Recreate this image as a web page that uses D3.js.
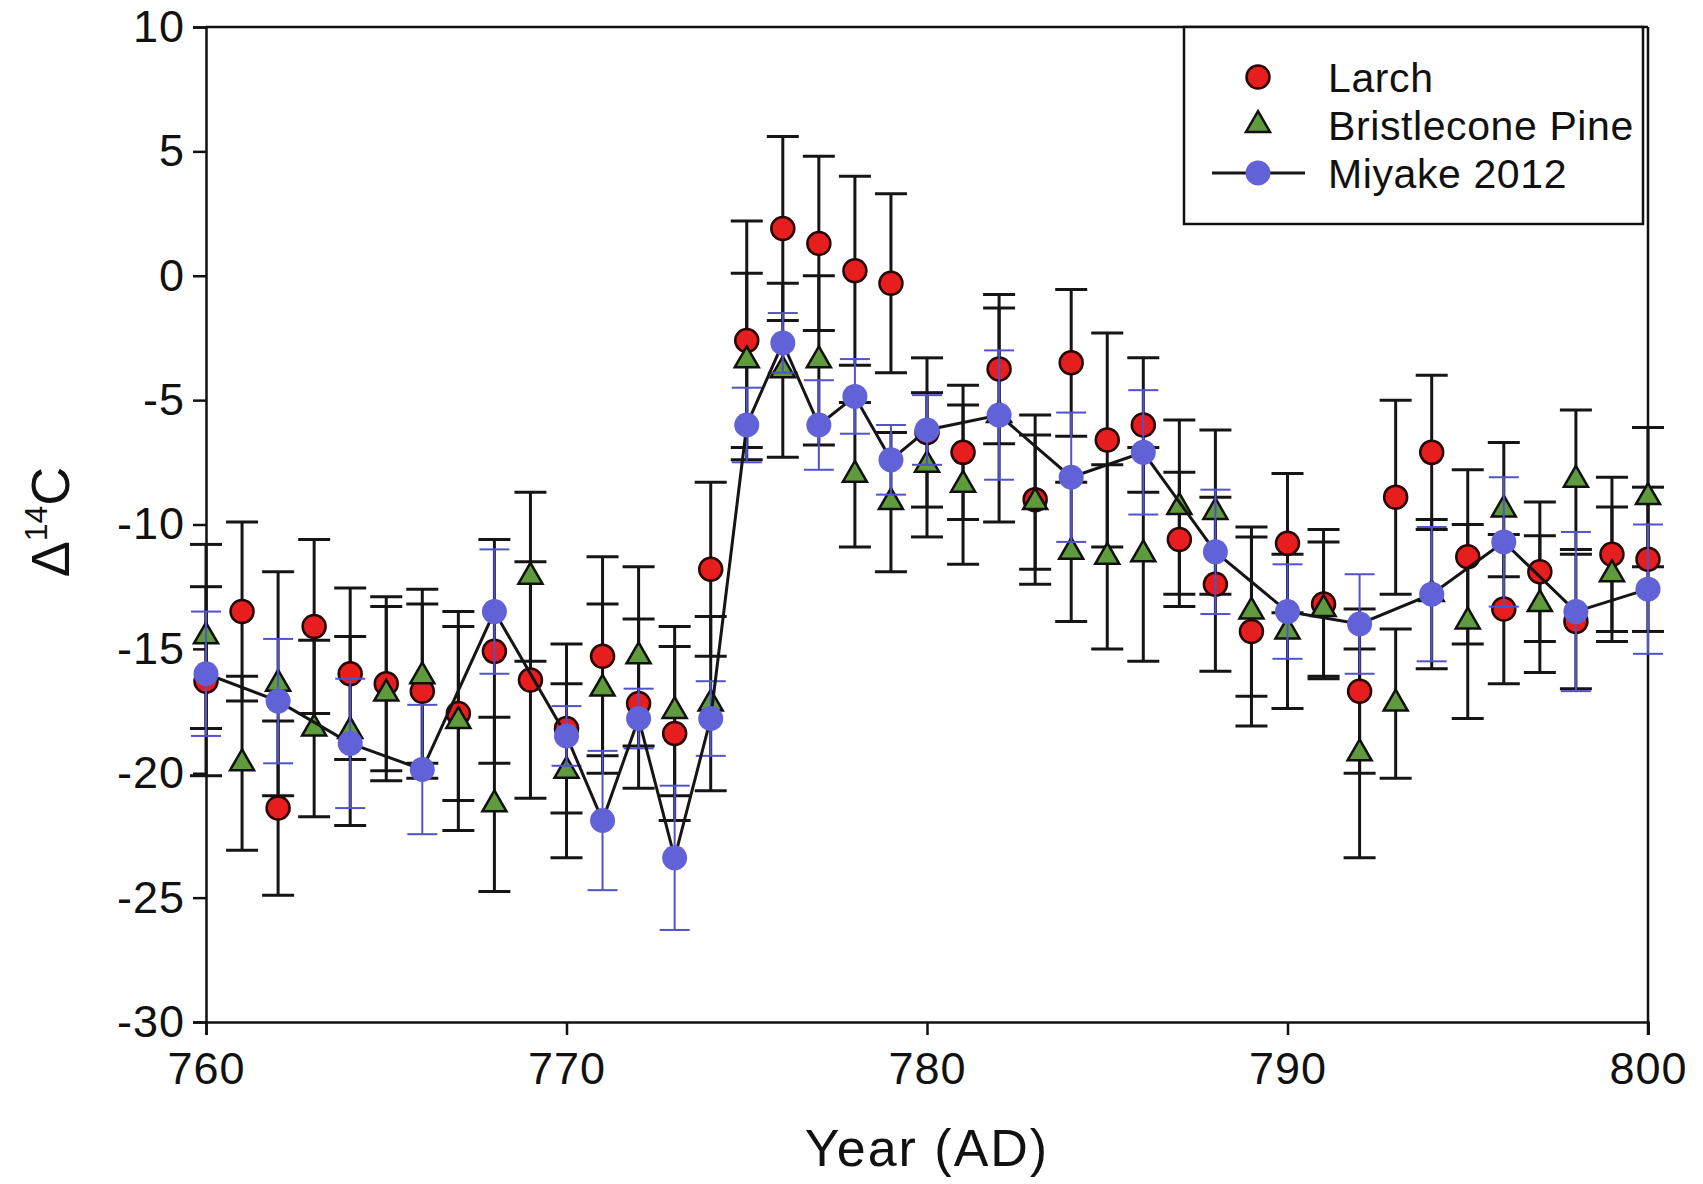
<!DOCTYPE html>
<html>
<head>
<meta charset="utf-8">
<script src="https://cdn.jsdelivr.net/npm/d3@7"></script>
<style>
  body { margin: 0; background: #fff; }
  text { font-family: "Liberation Sans", Arial, Helvetica, sans-serif; fill: #111; }
</style>
</head>
<body>
<div id="chart"></div>
<script>
var svgWidth = 1703;
var svgHeight = 1184;

// plot box
var box = { left: 206, right: 1648, top: 27, bottom: 1022 };

// data
var larchYears = d3.range(760, 801);
var larchValues = [-16.3, -13.5, -21.4, -14.1, -16.0, -16.4, -16.7, -17.6, -15.1, -16.25,
  -18.2, -15.3, -17.2, -18.4, -11.8, -2.6, 1.9, 1.3, 0.2, -0.3,
  -6.3, -7.1, -3.75, -9.0, -3.5, -6.6, -6.0, -10.6, -12.4, -14.3,
  -10.75, -13.2, -16.7, -8.9, -7.1, -11.3, -13.4, -11.9, -13.9, -11.2, -11.4];
var larchErrors = [3.8, 3.6, 3.5, 3.5, 3.45, 3.5, 3.5, 3.5, 4.5, 4.75,
  3.4, 4.0, 3.4, 3.5, 3.5, 4.8, 3.7, 3.5, 3.8, 3.6,
  3.0, 2.7, 3.0, 3.4, 2.95, 4.3, 2.7, 2.7, 3.5, 3.8,
  2.8, 3.0, 3.3, 3.9, 3.1, 3.5, 3.0, 2.8, 2.7, 3.1, 2.9];

var pineYears = d3.range(760, 801);
var pineValues = [-14.5, -19.6, -16.4, -18.2, -18.3, -16.8, -16.1, -17.9, -21.25, -12.1,
  -19.9, -16.6, -15.3, -17.5, -17.2, -3.4, -3.8, -3.4, -8.0, -9.1,
  -7.6, -8.4, -5.6, -9.1, -11.1, -11.3, -11.2, -9.3, -9.5, -13.5,
  -14.3, -13.4, -19.2, -17.2, -12.8, -13.9, -9.4, -13.2, -8.2, -12.0, -8.9];
var pineErrors = [3.7, 3.5, 4.5, 3.55, 3.8, 3.5, 3.5, 4.4, 3.5, 3.4,
  3.5, 3.4, 3.6, 3.4, 3.5, 3.5, 3.5, 3.4, 2.9, 2.8,
  2.9, 3.2, 4.3, 2.7, 2.8, 3.7, 4.3, 3.5, 3.3, 3.4,
  3.1, 2.7, 4.2, 3.0, 3.0, 3.9, 2.7, 2.75, 2.8, 2.7, 2.8];

var miyakeYears = [760, 762, 764, 766, 768, 770, 771, 772, 773, 774, 775, 776, 777,
  778, 779, 780, 782, 784, 786, 788, 790, 792, 794, 796, 798, 800];
var miyakeValues = [-16.0, -17.1, -18.8, -19.85, -13.5, -18.5, -21.9, -17.8, -23.4, -17.8,
  -6.0, -2.7, -6.0, -4.85, -7.4, -6.2, -5.6, -8.1, -7.1, -11.1,
  -13.5, -14.0, -12.8, -10.7, -13.5, -12.6];
var miyakeErrors = [2.5, 2.5, 2.6, 2.6, 2.5, 1.2, 2.8, 1.2, 2.9, 1.5,
  1.5, 1.2, 1.8, 1.5, 1.4, 1.4, 2.6, 2.6, 2.5, 2.5,
  1.9, 2.0, 2.7, 2.6, 3.2, 2.6];

var xTicks = [760, 770, 780, 790, 800];
var yTicks = [-30, -25, -20, -15, -10, -5, 0, 5, 10];
var seriesNames = ["Larch", "Bristlecone Pine", "Miyake 2012"];

function rows(years, values, errors) {
  return years.map(function(y, i) { return { year: y, value: values[i], err: errors[i] }; });
}
var larch = rows(larchYears, larchValues, larchErrors);
var pine = rows(pineYears, pineValues, pineErrors);
var miyake = rows(miyakeYears, miyakeValues, miyakeErrors);

var svg = d3.select("#chart")
  .append("svg")
  .attr("width", svgWidth)
  .attr("height", svgHeight);

svg.append("rect").attr("width", svgWidth).attr("height", svgHeight).attr("fill", "#fff");

var x = d3.scaleLinear().domain([760, 800]).range([box.left, box.right]);
var y = d3.scaleLinear().domain([-30, 10]).range([box.bottom, box.top]);

var redFill = "#e61e1e", greenFill = "#5f9b3c", blueFill = "#6262d8", blueBar = "#5252cc";

// axes
var leftAxis = d3.axisLeft(y).tickValues(yTicks).tickSize(13).tickPadding(8)
  .tickFormat(function(d) { return String(d); });
var bottomAxis = d3.axisBottom(x).tickValues(xTicks).tickSize(13).tickPadding(17)
  .tickFormat(function(d) { return String(d); });

var gy = svg.append("g").attr("transform", `translate(${box.left},0)`).call(leftAxis);
var gx = svg.append("g").attr("transform", `translate(0,${box.bottom})`).call(bottomAxis);
[gx, gy].forEach(function(g) {
  g.selectAll("path").attr("stroke", "#111").attr("stroke-width", 2.5);
  g.selectAll("line").attr("stroke", "#111").attr("stroke-width", 2.5);
  g.selectAll("text").attr("font-size", 45).attr("fill", "#111")
    .attr("letter-spacing", 1)
    .style("font-family", '"Liberation Sans", Arial, sans-serif');
});

// top and right frame
svg.append("line").attr("x1", box.left).attr("x2", box.right).attr("y1", box.top).attr("y2", box.top)
  .attr("stroke", "#111").attr("stroke-width", 2.5);
svg.append("line").attr("x1", box.right).attr("x2", box.right).attr("y1", box.top).attr("y2", box.bottom + 13)
  .attr("stroke", "#111").attr("stroke-width", 2.5);

// axis titles
svg.append("text")
  .attr("x", (box.left + box.right) / 2)
  .attr("y", 1166)
  .attr("text-anchor", "middle")
  .attr("font-size", 52)
  .attr("letter-spacing", 2)
  .text("Year (AD)");

var yTitle = svg.append("text")
  .attr("transform", "translate(69,522) rotate(-90)")
  .attr("text-anchor", "middle")
  .attr("font-size", 54);
yTitle.append("tspan").text("Δ");
yTitle.append("tspan").attr("font-size", 32).attr("dy", -22).text("14");
yTitle.append("tspan").attr("dy", 22).text("C");

// error bars
function errorBars(data, color, width, cap) {
  var g = svg.append("g").attr("stroke", color).attr("stroke-width", width).attr("fill", "none");
  g.selectAll("line.v").data(data).enter().append("line")
    .attr("x1", d => x(d.year)).attr("x2", d => x(d.year))
    .attr("y1", d => y(d.value - d.err)).attr("y2", d => y(d.value + d.err));
  g.selectAll("line.t").data(data).enter().append("line")
    .attr("x1", d => x(d.year) - cap).attr("x2", d => x(d.year) + cap)
    .attr("y1", d => y(d.value + d.err)).attr("y2", d => y(d.value + d.err));
  g.selectAll("line.b").data(data).enter().append("line")
    .attr("x1", d => x(d.year) - cap).attr("x2", d => x(d.year) + cap)
    .attr("y1", d => y(d.value - d.err)).attr("y2", d => y(d.value - d.err));
}
errorBars(larch, "#151515", 3, 16);
errorBars(pine, "#151515", 3, 16);

var tri = d3.symbol().type(d3.symbolTriangle).size(250);

svg.append("g").selectAll("circle").data(larch).enter().append("circle")
  .attr("cx", d => x(d.year)).attr("cy", d => y(d.value)).attr("r", 11.5)
  .attr("fill", redFill).attr("stroke", "#2a0505").attr("stroke-width", 2.5);

svg.append("g").selectAll("path").data(pine).enter().append("path")
  .attr("d", tri)
  .attr("transform", d => `translate(${x(d.year)},${y(d.value)})`)
  .attr("fill", greenFill).attr("stroke", "#101010").attr("stroke-width", 2.5);

errorBars(miyake, blueBar, 2, 15);

svg.append("path").datum(miyake)
  .attr("fill", "none").attr("stroke", "#151515").attr("stroke-width", 3)
  .attr("d", d3.line().x(d => x(d.year)).y(d => y(d.value)));

svg.append("g").selectAll("circle").data(miyake).enter().append("circle")
  .attr("cx", d => x(d.year)).attr("cy", d => y(d.value)).attr("r", 12.5)
  .attr("fill", blueFill);

// legend
var legend = svg.append("g");
legend.append("rect").attr("x", 1184).attr("y", 27).attr("width", 459).attr("height", 197)
  .attr("fill", "#fff").attr("stroke", "#111").attr("stroke-width", 2.5);
var rowY = [77, 125, 173];
legend.append("circle").attr("cx", 1258).attr("cy", rowY[0]).attr("r", 11.5)
  .attr("fill", redFill).attr("stroke", "#2a0505").attr("stroke-width", 2.5);
legend.append("path").attr("d", tri).attr("transform", `translate(1258,${rowY[1]})`)
  .attr("fill", greenFill).attr("stroke", "#101010").attr("stroke-width", 2.5);
legend.append("line").attr("x1", 1212).attr("x2", 1305).attr("y1", rowY[2]).attr("y2", rowY[2])
  .attr("stroke", "#151515").attr("stroke-width", 3);
legend.append("circle").attr("cx", 1258).attr("cy", rowY[2]).attr("r", 12.5).attr("fill", blueFill);
legend.selectAll("text").data(seriesNames).enter().append("text")
  .attr("x", 1328).attr("y", (d, i) => rowY[i]).attr("dy", "0.36em")
  .attr("font-size", 41).attr("letter-spacing", 0.6).text(d => d);
</script>
</body>
</html>
